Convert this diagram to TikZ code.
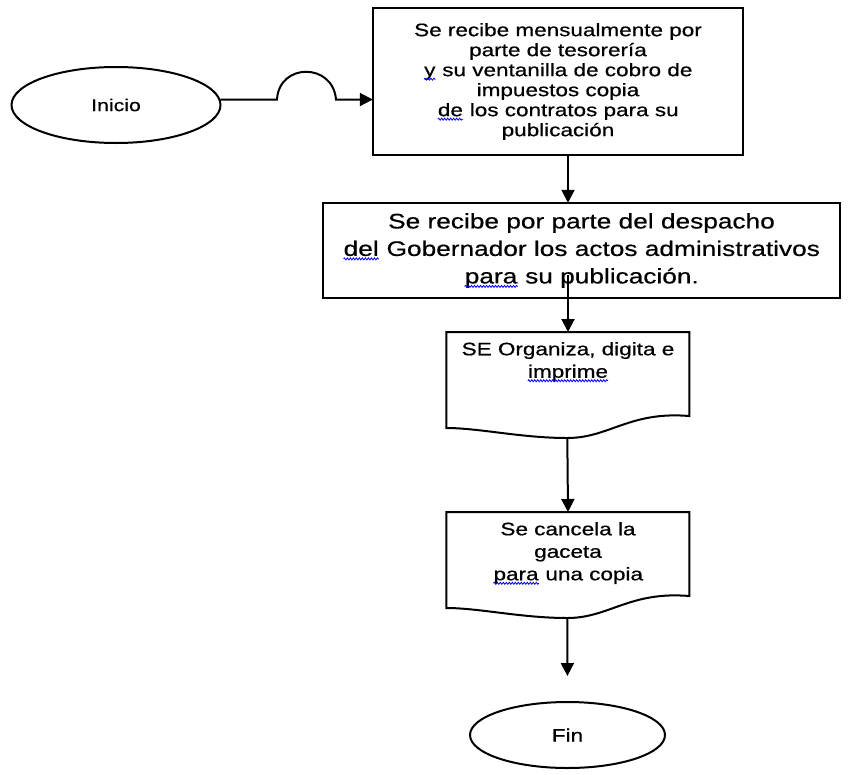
\documentclass[tikz,border=0pt]{standalone}
\usepackage{fontspec}
\setmainfont[FakeStretch=1.25,FakeBold=0.6]{Liberation Sans}
\usepackage{tikz}
\usetikzlibrary{arrows.meta,shapes.geometric,calc,decorations.pathmorphing}

\newcommand{\spellmark}[1]{\tikz[baseline=(w.base)]{%
  \node[draw=none,fill=none,rectangle,inner sep=0pt,minimum width=0pt,minimum height=0pt] (w) {#1};
  \draw[blue,line width=0.8pt,decorate,decoration={snake,amplitude=1pt,segment length=3pt}]
    ([yshift=-3pt]w.base west) -- ([yshift=-3pt]w.base east);}}

\begin{document}
\begin{tikzpicture}[x=1pt,y=-1pt,line width=2pt,>={Triangle[length=13pt,width=13pt]},
  term node/.style={ellipse,draw,inner sep=0pt},
  proc node/.style={rectangle,draw,align=center,inner sep=0pt},
  doc node/.style={anchor=north,align=center,minimum width=243pt,inner xsep=0pt,
    inner ysep=10pt,font=\fontsize{18}{22.5}\selectfont}]

  \useasboundingbox (0,0) rectangle (848,774);

  \node[term node,minimum width=209pt,minimum height=76pt,font=\fontsize{17}{20}\selectfont] (ini) at (116,105) {Inicio};
  \node[proc node,minimum width=370pt,minimum height=147pt,font=\fontsize{18}{20}\selectfont] (rec) at (558,81.5)
    {Se recibe mensualmente por\\parte de tesorería\\\spellmark{y} su ventanilla de cobro de\\impuestos copia\\\spellmark{de} los contratos para su\\publicación};
  \node[proc node,minimum width=517pt,minimum height=95pt,font=\fontsize{21}{27.5}\selectfont] (desp) at (581.5,250.5)
    {Se recibe por parte del despacho\\\spellmark{del} Gobernador los actos administrativos\\\spellmark{para} su publicación.};
  \node[doc node] (org) at (568,332) {SE Organiza, digita e\\\spellmark{imprime}};
  \node[doc node] (canc) at (568,512) {Se cancela la\\gaceta\\\spellmark{para} una copia};
  \node[term node,minimum width=195pt,minimum height=66pt,font=\fontsize{18}{20}\selectfont] (fin) at (567.5,735) {Fin};

  % document outlines
  \foreach \d in {org,canc}{
    \begin{scope}[shift={(\d.north west)}]
      \draw (0,0) -- (243,0) -- (243,84) .. controls (183,79) and (163,106) .. (121,106)
        .. controls (75,106) and (33,96) .. (0,96) -- cycle;
      \coordinate (\d-b) at (121,106);
    \end{scope}}

  % connectors
  \coordinate (h1) at (ini.3 -| 277,0);
  \coordinate (h2) at (ini.3 -| 336,0);
  \draw[->] (ini.3) -- (h1) .. controls ($(h1)+(2,-37)$) and ($(h2)+(-3,-37)$) .. (h2)
    -- (rec.west |- h2);
  \draw[->] (rec.south -| org.north) -- (desp.north -| org.north);
  \coordinate (desp-in) at ($(desp.south -| org.north)+(0,-23)$);
  \draw[->] (desp-in) -- (org.north);
  \draw[->] (org-b) -- (canc.north);
  \draw[->,shorten >=25pt] (canc-b) -- (fin.north);
\end{tikzpicture}
\end{document}
